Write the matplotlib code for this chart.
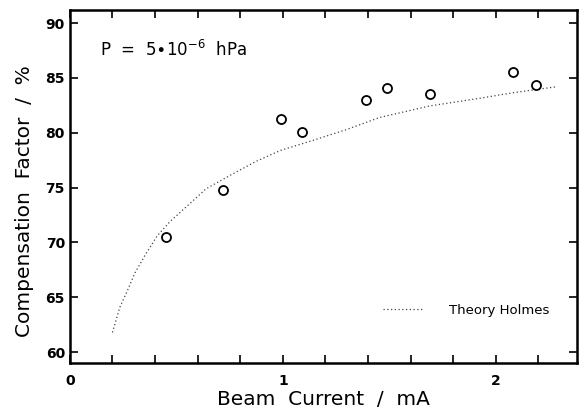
import matplotlib
matplotlib.use("Agg")
import matplotlib.pyplot as plt
from matplotlib.ticker import MultipleLocator

# measured compensation factor
current = [0.45, 0.72, 0.99, 1.09, 1.39, 1.49, 1.69, 2.08, 2.19]
factor = [70.5, 74.8, 81.3, 80.1, 83.0, 84.1, 83.5, 85.5, 84.4]

# theory curve (Holmes)
theory_x = [0.20, 0.235, 0.27, 0.305, 0.355, 0.41, 0.47, 0.555, 0.64, 0.76,
            0.875, 0.99, 1.14, 1.30, 1.455, 1.69, 1.925, 2.08, 2.285]
theory_y = [61.8, 64.1, 65.6, 67.2, 68.9, 70.6, 71.9, 73.4, 74.9, 76.2,
            77.4, 78.4, 79.3, 80.3, 81.4, 82.45, 83.15, 83.65, 84.2]

plt.rcParams['font.family'] = ['DejaVu Sans']

fig = plt.figure(figsize=(5.82, 4.15), dpi=100)
ax = fig.add_axes([0.120, 0.125, 0.871, 0.851])

ax.plot(theory_x, theory_y, linestyle=(0, (1, 2)), color='#444444',
        linewidth=0.9, label='Theory Holmes')
ax.plot(current, factor, 'o', markerfacecolor='white', markeredgecolor='black',
        markersize=6.5, markeredgewidth=1.3)

ax.set_xlim(0, 2.38)
ax.set_ylim(59, 91.2)
ax.set_xticks([0, 1, 2])
ax.set_xticklabels(['0', '1', '2'])
ax.xaxis.set_minor_locator(MultipleLocator(0.2))
ax.yaxis.set_major_locator(MultipleLocator(5))

ax.tick_params(which='both', direction='in', top=True, right=True,
               width=1.2, labelsize=10)
ax.tick_params(which='major', length=6)
ax.tick_params(which='minor', length=6)
ax.tick_params(axis='x', pad=8)
for lab in ax.get_xticklabels() + ax.get_yticklabels():
    lab.set_fontweight('bold')
for s in ax.spines.values():
    s.set_linewidth(1.8)

ax.set_xlabel('Beam  Current  /  mA', fontsize=14.5, labelpad=1)
ax.set_ylabel('Compensation  Factor  /  %', fontsize=14.5)
ax.yaxis.set_label_coords(-0.07, 0.46)

ax.text(0.14, 87.0, r'P  =  5$\bullet$10$^{-6}$  hPa', fontsize=12)

ax.legend(loc='center right', frameon=False, fontsize=9.5,
          handlelength=3.0, handletextpad=2.0, bbox_to_anchor=(0.97, 0.15))

plt.savefig('out.png', dpi=100)
